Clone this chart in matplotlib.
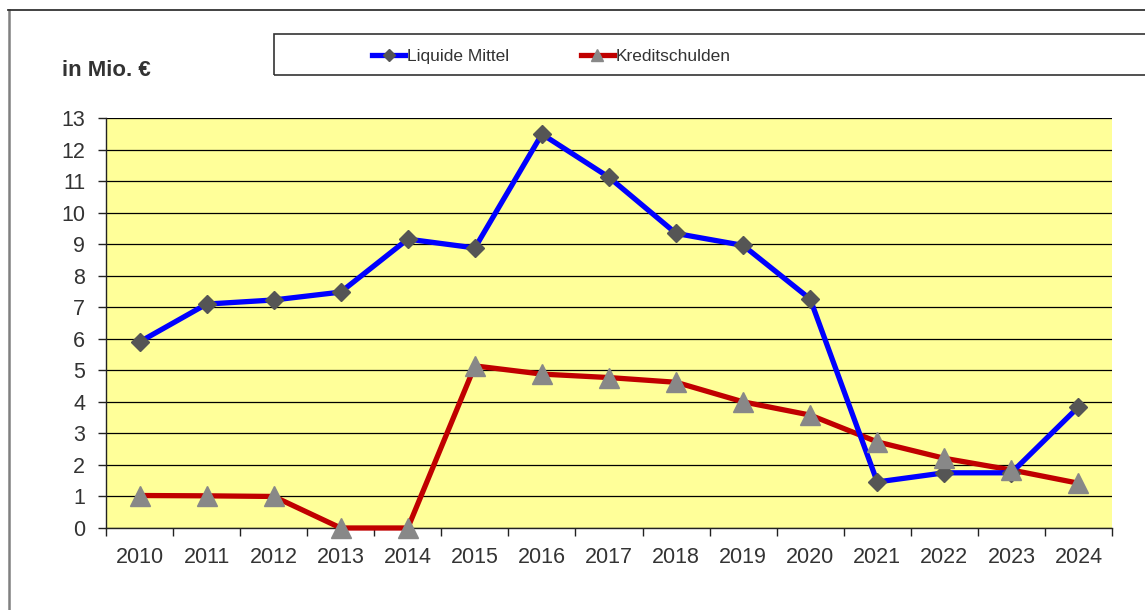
import matplotlib.pyplot as plt
from matplotlib.lines import Line2D
from matplotlib.patches import Rectangle
import numpy as np

plt.rcParams['font.family'] = ['Liberation Sans', 'DejaVu Sans']

# data
years = ['2010', '2011', '2012', '2013', '2014', '2015', '2016', '2017',
         '2018', '2019', '2020', '2021', '2022', '2023', '2024']
liquide_mittel = [5.90, 7.10, 7.23, 7.48, 9.16, 8.88, 12.49, 11.12,
                  9.34, 8.96, 7.26, 1.46, 1.75, 1.75, 3.84]
kreditschulden = [1.03, 1.02, 1.00, 0.0, 0.0, 5.14, 4.88, 4.77,
                  4.62, 4.00, 3.58, 2.73, 2.21, 1.84, 1.42]
y_ticks = list(range(0, 14))

text_col = '#333333'
W, H = 1145, 610

fig = plt.figure(figsize=(11.45, 6.10), dpi=100)
ax = fig.add_axes([106 / W, 1 - 528 / H, (1112 - 106) / W, (528 - 118) / H])
ax.set_facecolor('#FFFF99')

x = np.arange(len(years))

# lines first, markers after so triangles end up on top
ax.plot(x, kreditschulden, color='#C00000', lw=3.8, zorder=3, clip_on=False)
ax.plot(x, liquide_mittel, color='#0000FF', lw=3.8, zorder=4, clip_on=False)
ax.plot(x, liquide_mittel, ls='none', marker='D', ms=9, color='#555555', zorder=5, clip_on=False)
ax.plot(x, kreditschulden, ls='none', marker='^', ms=14, color='#888888', zorder=6, clip_on=False)

ax.set_xlim(-0.5, len(years) - 0.5)
ax.set_ylim(0, 13)

# x: tick marks between categories, labels centered
ax.set_xticks(np.arange(-0.5, len(years), 1.0))
ax.set_xticklabels([])
ax.set_xticks(x, minor=True)
ax.set_xticklabels(years, minor=True)
ax.tick_params(axis='x', which='major', direction='out', length=6, width=1, color='#222222')
ax.tick_params(axis='x', which='minor', length=0, pad=14, labelsize=15.5, labelcolor=text_col)

ax.set_yticks(y_ticks)
ax.tick_params(axis='y', direction='out', length=6, width=1, color='#222222',
               labelsize=15.5, labelcolor=text_col, pad=9)
ax.grid(axis='y', color='black', lw=0.9, zorder=1)
ax.set_axisbelow(True)

for s in ['top', 'right']:
    ax.spines[s].set_visible(False)
for s in ['left', 'bottom']:
    ax.spines[s].set_color('#222222')
    ax.spines[s].set_linewidth(1.0)

fig.text(62 / W, 1 - 71 / H, 'in Mio. €', fontsize=16, fontweight='bold',
         color=text_col, va='center', ha='left')

# outer frame (left and top only, like the source)
fig.add_artist(Line2D([8.5 / W, 8.5 / W], [0, 1 - 10 / H], color='#808080', lw=1.8))
fig.add_artist(Line2D([8 / W, 1], [1 - 10 / H, 1 - 10 / H], color='#333333', lw=1.3))

# legend box
fig.add_artist(Rectangle((274 / W, 1 - 75 / H), (W - 274 + 5) / W, 41 / H,
                         transform=fig.transFigure, fill=False, edgecolor='#333333', lw=1.2))
handles = [
    Line2D([], [], color='#0000FF', lw=3.8, marker='D', ms=6, mfc='#555555', mec='#555555'),
    Line2D([], [], color='#C00000', lw=3.8, marker='^', ms=9, mfc='#888888', mec='#888888'),
]
fig.legend(handles, ['Liquide Mittel', 'Kreditschulden'], loc='center left',
           bbox_to_anchor=(356 / W, 1 - 56 / H), ncol=2, frameon=False,
           fontsize=12.5, handlelength=1.95, handletextpad=0.1, columnspacing=4.1,
           labelcolor=text_col)

fig.savefig('out.png', dpi=100)
